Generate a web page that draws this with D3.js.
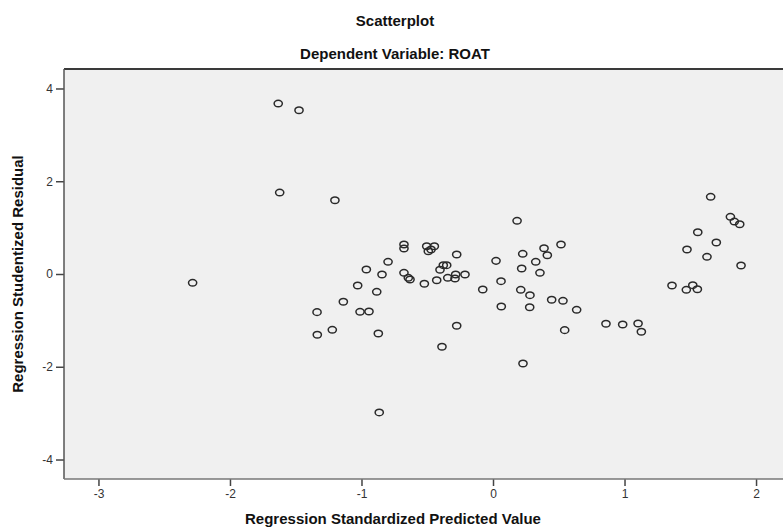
<!DOCTYPE html>
<html>
<head>
<meta charset="utf-8">
<script src="https://cdn.jsdelivr.net/npm/d3@7"></script>
<style>
  body { margin: 0; background: #fff; }
  svg { display: block; font-family: "Liberation Sans", Arial, sans-serif; }
</style>
</head>
<body>
<div id="chart"></div>
<script>
// Regression Standardized Predicted Value
var predicted = [
  -1.633, -1.475, -1.622, -1.202, -2.284, -0.963, -0.798, -0.844, -1.029, -0.884,
  -1.138, -1.338, -1.011, -0.943, -1.222, -1.336, -0.872, -0.865,
  0.183, -0.677, -0.677, -0.504, -0.446, -0.492, -0.471, -0.276, -0.378, -0.352,
  -0.403, -0.677, -0.644, -0.631, -0.522, -0.428, -0.344, -0.289, -0.284, -0.213,
  0.023, 0.061, -0.078, 0.063, 0.226, 0.218, 0.211, 0.281, 0.279, 0.388,
  0.413, 0.325, 0.357, 0.517, 0.446, 0.532, 0.636, 0.545, -0.276, -0.388,
  0.228, 0.859, 0.986, 1.103, 1.128,
  1.655, 1.805, 1.835, 1.876, 1.557, 1.698, 1.475, 1.627, 1.886, 1.361,
  1.519, 1.470, 1.554
];
// Regression Studentized Residual
var residual = [
  3.675, 3.53, 1.756, 1.59, -0.19, 0.097, 0.263, -0.011, -0.248, -0.384,
  -0.599, -0.823, -0.815, -0.808, -1.203, -1.310, -1.282, -2.985,
  1.147, 0.636, 0.550, 0.599, 0.599, 0.491, 0.528, 0.420, 0.190, 0.190,
  0.091, 0.026, -0.082, -0.119, -0.211, -0.134, -0.082, -0.097, -0.011, -0.011,
  0.284, -0.155, -0.334, -0.700, 0.435, 0.119, -0.341, -0.457, -0.716, 0.556,
  0.405, 0.263, 0.026, 0.636, -0.556, -0.578, -0.772, -1.211, -1.116, -1.569,
  -1.929, -1.073, -1.088, -1.067, -1.246,
  1.664, 1.233, 1.131, 1.073, 0.901, 0.679, 0.528, 0.371, 0.183, -0.248,
  -0.241, -0.341, -0.328
];
var xTicks = [-3, -2, -1, 0, 1, 2];
var yTicks = [-4, -2, 0, 2, 4];
var xDomain = [-3.262, 2.205];
var yDomain = [-4.42, 4.42];

var width = 783, height = 527;
var plot = { left: 64, top: 69, right: 783, bottom: 479 };

var svg = d3.select("#chart").append("svg")
  .attr("width", width)
  .attr("height", height);

var x = d3.scaleLinear().domain(xDomain).range([plot.left, plot.right]);
var y = d3.scaleLinear().domain(yDomain).range([plot.bottom, plot.top]);
var fmt = function(d) { return String(d); };   // plain hyphen minus, like SPSS

// plot background
svg.append("rect")
  .attr("x", plot.left)
  .attr("y", plot.top)
  .attr("width", plot.right - plot.left)
  .attr("height", plot.bottom - plot.top)
  .attr("fill", "#f0f0f0");

// axes
var yAxis = svg.append("g")
  .attr("transform", "translate(" + plot.left + ",0)")
  .call(d3.axisLeft(y).tickValues(yTicks).tickSize(8).tickPadding(3).tickFormat(fmt));
var xAxis = svg.append("g")
  .attr("transform", "translate(0," + plot.bottom + ")")
  .call(d3.axisBottom(x).tickValues(xTicks).tickSize(7).tickPadding(3).tickFormat(fmt));

[xAxis, yAxis].forEach(function(g) {
  g.select(".domain").remove();
  g.selectAll(".tick line").attr("stroke", "#444").attr("stroke-width", 1.5);
  g.selectAll(".tick text")
    .attr("fill", "#333")
    .style("font-size", "12px")
    .style("font-family", "Liberation Sans, Arial, sans-serif");
});

// frame
svg.append("line")
  .attr("x1", plot.left).attr("x2", plot.right)
  .attr("y1", plot.top).attr("y2", plot.top)
  .attr("stroke", "#3a3a3a").attr("stroke-width", 2);
svg.append("line")
  .attr("x1", plot.left).attr("x2", plot.left)
  .attr("y1", plot.top).attr("y2", plot.bottom)
  .attr("stroke", "#555").attr("stroke-width", 1.5);
svg.append("line")
  .attr("x1", plot.left).attr("x2", plot.right)
  .attr("y1", plot.bottom).attr("y2", plot.bottom)
  .attr("stroke", "#777").attr("stroke-width", 1.5);

// points
svg.append("g")
  .selectAll("ellipse")
  .data(d3.zip(predicted, residual))
  .enter()
  .append("ellipse")
  .attr("cx", function(d) { return x(d[0]); })
  .attr("cy", function(d) { return y(d[1]); })
  .attr("rx", 4.1)
  .attr("ry", 3.3)
  .attr("fill", "none")
  .attr("stroke", "#2a2a2a")
  .attr("stroke-width", 1.5);

// titles
svg.append("text")
  .attr("x", 395).attr("y", 26)
  .attr("text-anchor", "middle")
  .style("font-size", "15px").style("font-weight", "bold")
  .attr("fill", "#111")
  .text("Scatterplot");
svg.append("text")
  .attr("x", 395).attr("y", 59)
  .attr("text-anchor", "middle")
  .style("font-size", "15px").style("font-weight", "bold")
  .attr("fill", "#111")
  .text("Dependent Variable: ROAT");
svg.append("text")
  .attr("x", 393).attr("y", 524)
  .attr("text-anchor", "middle")
  .style("font-size", "15px").style("font-weight", "bold")
  .attr("fill", "#111")
  .text("Regression Standardized Predicted Value");
svg.append("text")
  .attr("transform", "translate(23,274) rotate(-90)")
  .attr("text-anchor", "middle")
  .style("font-size", "15px").style("font-weight", "bold")
  .attr("fill", "#111")
  .text("Regression Studentized Residual");
</script>
</body>
</html>
